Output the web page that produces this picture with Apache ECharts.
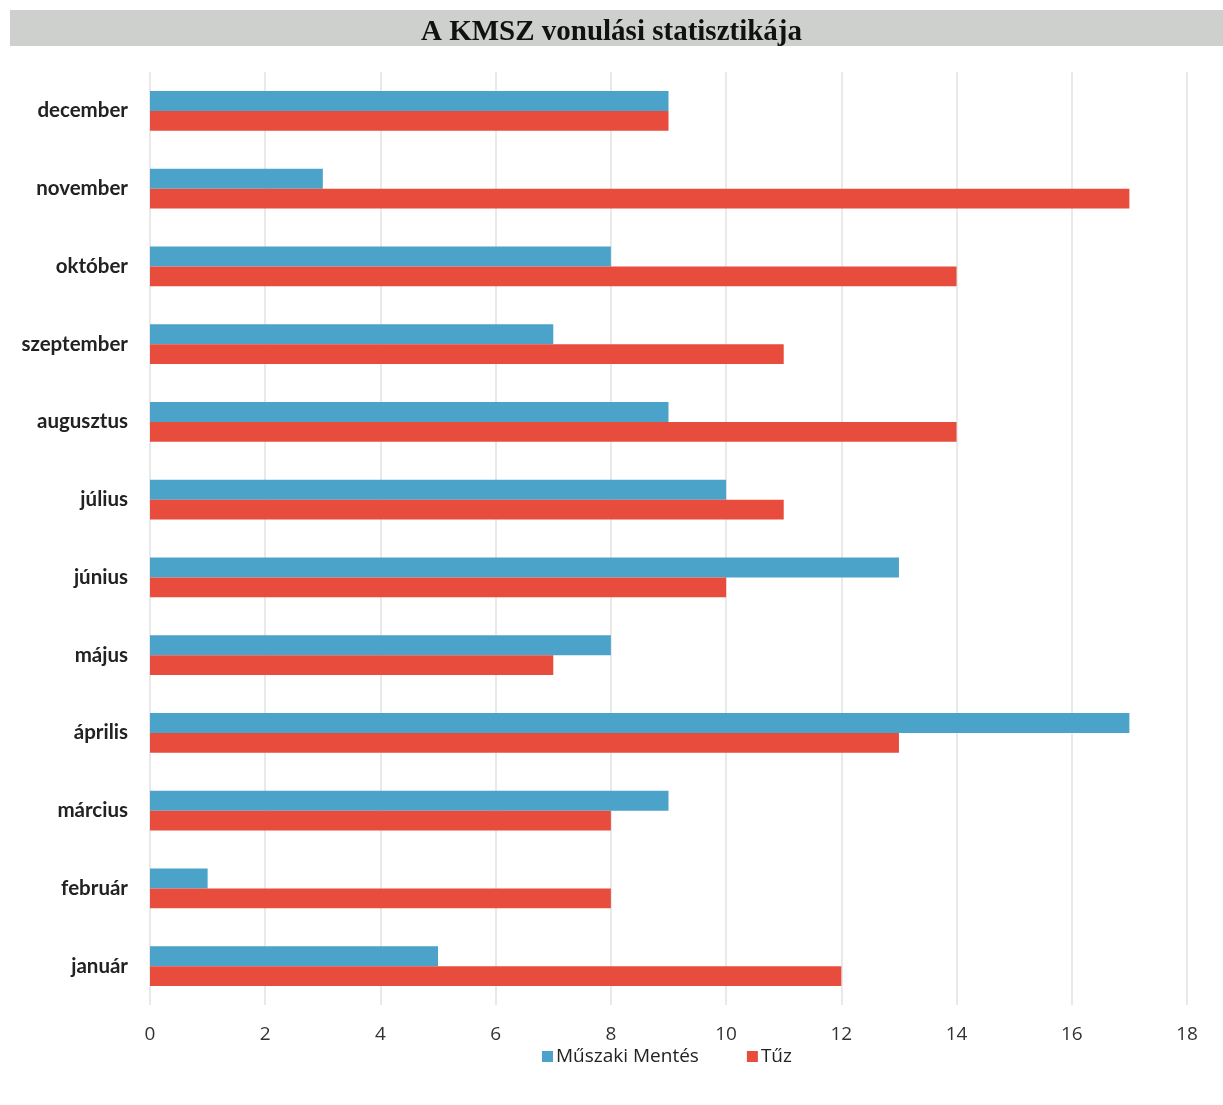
<!DOCTYPE html>
<html>
<head>
<meta charset="utf-8">
<script src="https://cdn.jsdelivr.net/npm/echarts@6/dist/echarts.min.js"></script>
<style>
html,body{margin:0;padding:0;background:#fff;}
#chart{width:1223px;height:1105px;}
</style>
</head>
<body>
<div id="chart"></div>
<script>
const categories = ['január','február','március','április','május','június','július','augusztus','szeptember','október','november','december'];
const muszakiMentes = [5, 1, 9, 17, 8, 13, 10, 9, 7, 8, 3, 9];
const tuz = [12, 8, 8, 13, 7, 10, 11, 14, 11, 14, 17, 9];
const seriesNames = ['Műszaki Mentés', 'Tűz'];
const titleText = 'A KMSZ vonulási statisztikája';

const chart = echarts.init(document.getElementById('chart'));
chart.setOption({
  backgroundColor: '#ffffff',
  animation: false,
  graphic: [{
    type: 'rect',
    left: 10, top: 10,
    shape: { width: 1213, height: 36 },
    style: { fill: '#cdd0cd' },
    z: 0
  }],
  title: {
    text: titleText,
    left: 'center',
    top: 13,
    textStyle: { fontFamily: 'Liberation Serif', fontWeight: 'bold', fontSize: 29, color: '#111' }
  },
  legend: {
    data: seriesNames,
    left: 537,
    top: 1042,
    itemWidth: 11,
    itemHeight: 11,
    itemGap: 48,
    icon: 'rect',
    textStyle: { fontFamily: 'Open Sans', fontSize: 19, color: '#222', padding: [0,0,0,-2] }
  },
  grid: { left: 150, right: 36, top: 72, bottom: 100 },
  xAxis: {
    type: 'value',
    min: 0, max: 18, interval: 2,
    axisLine: { show: false },
    axisTick: { show: false },
    splitLine: { lineStyle: { color: '#e2e2e2', width: 1.5 } },
    axisLabel: { fontFamily: 'Open Sans', fontSize: 19, color: '#333', margin: 20 }
  },
  yAxis: {
    type: 'category',
    data: categories,
    axisLine: { show: false },
    axisTick: { show: false },
    axisLabel: { fontFamily: 'Lato', fontWeight: 'bold', fontSize: 20.5, color: '#222', margin: 22 }
  },
  series: [
    {
      name: 'Műszaki Mentés', type: 'bar', data: muszakiMentes,
      itemStyle: { color: '#4ba3c9' },
      barGap: '0%', barCategoryGap: '49%'
    },
    {
      name: 'Tűz', type: 'bar', data: tuz,
      itemStyle: { color: '#e84c3d' },
      barGap: '0%', barCategoryGap: '49%'
    }
  ]
});
</script>
</body>
</html>
